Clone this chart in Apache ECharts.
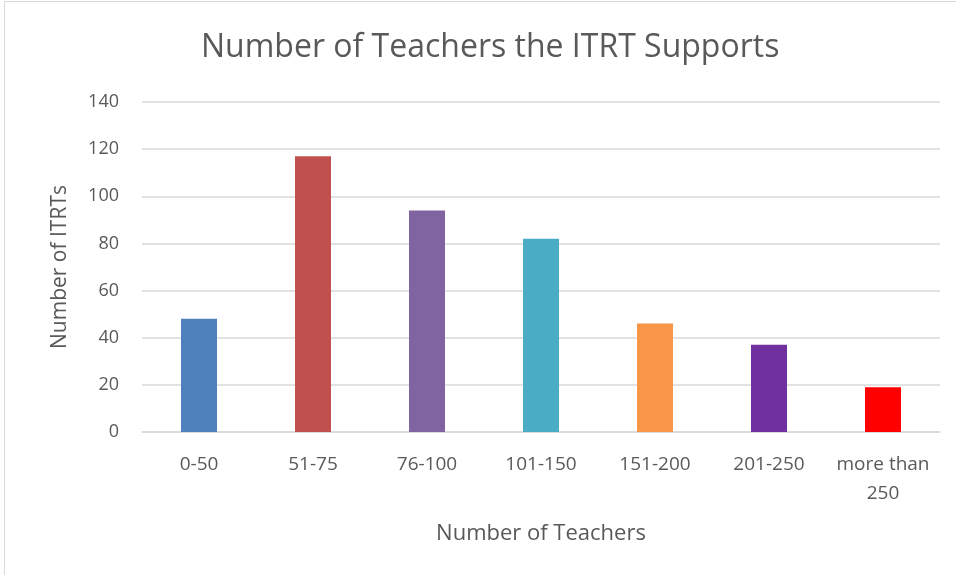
<!DOCTYPE html>
<html>
<head>
<meta charset="utf-8">
<script src="https://cdn.jsdelivr.net/npm/echarts@6/dist/echarts.min.js"></script>
<style>
  html, body { margin: 0; padding: 0; background: #fff; }
  #frame { position: absolute; left: 4px; top: 1px; width: 960px; height: 580px; border: 1px solid #d9d9d9; box-sizing: border-box; }
  #chart { position: absolute; left: 0; top: 0; width: 956px; height: 575px; }
</style>
</head>
<body>
<div id="frame"></div>
<div id="chart"></div>
<script>
// data
const categories = ['0-50', '51-75', '76-100', '101-150', '151-200', '201-250', 'more than\n250'];
const itrtCounts = [48, 117, 94, 82, 46, 37, 19];
const barColors = ['#4F81BD', '#C0504D', '#8064A2', '#4BACC6', '#F79646', '#7030A0', '#FF0000'];

const chart = echarts.init(document.getElementById('chart'));
const font = 'Open Sans';

chart.setOption({
  animation: false,
  title: {
    text: 'Number of Teachers the ITRT Supports',
    left: 196,
    top: 27,
    textStyle: { color: '#595959', fontSize: 32, fontWeight: 'normal', fontFamily: font }
  },
  grid: { left: 142, right: 16, top: 102, bottom: 143, containLabel: false },
  xAxis: {
    type: 'category',
    data: categories,
    name: 'Number of Teachers',
    nameLocation: 'middle',
    nameGap: 91,
    nameTextStyle: { color: '#595959', fontSize: 22, fontFamily: font },
    axisLine: { lineStyle: { color: '#d9d9d9', width: 1.5 } },
    axisTick: { show: false },
    axisLabel: { color: '#595959', fontSize: 19, fontFamily: font, margin: 18, lineHeight: 29, interval: 0 }
  },
  yAxis: {
    type: 'value',
    min: 0,
    max: 140,
    interval: 20,
    name: 'Number of ITRTs',
    nameLocation: 'middle',
    nameGap: 71,
    nameTextStyle: { color: '#595959', fontSize: 21, fontFamily: font },
    axisLine: { show: false },
    axisTick: { show: false },
    axisLabel: { color: '#595959', fontSize: 18, fontFamily: font, margin: 23 },
    splitLine: { lineStyle: { color: '#d9d9d9', width: 1.5 } }
  },
  series: [{
    type: 'bar',
    barWidth: 36,
    data: itrtCounts.map((v, i) => ({ value: v, itemStyle: { color: barColors[i] } }))
  }]
});
</script>
</body>
</html>
